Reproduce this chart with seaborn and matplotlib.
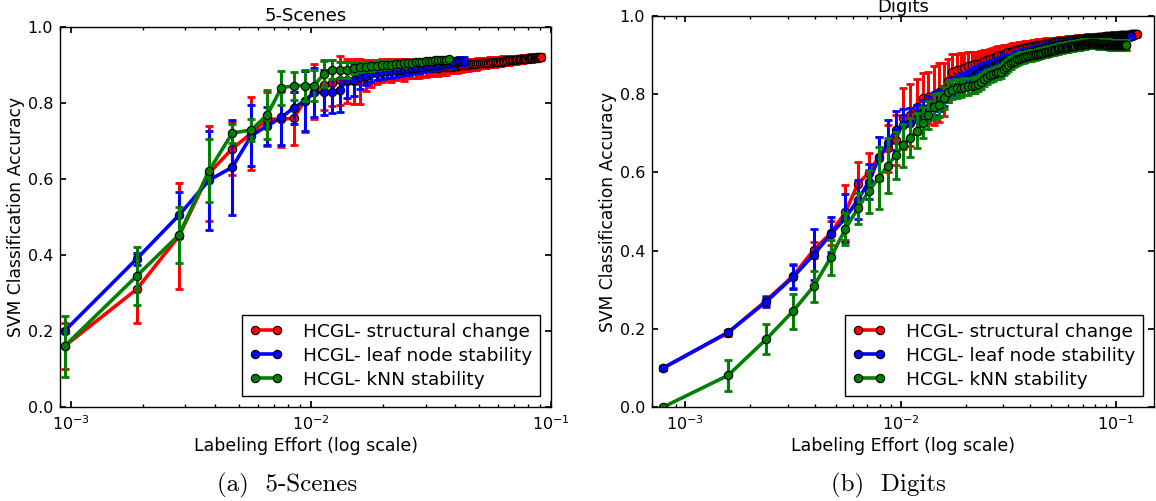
import numpy as np
import pandas as pd
import matplotlib
matplotlib.use("Agg")
import matplotlib.pyplot as plt
from matplotlib.ticker import FormatStrFormatter, LogLocator
import seaborn as sns

# ---------------------------------------------------------------
# Labeling budget per active-learning round (fraction of dataset)
# ---------------------------------------------------------------
scenes_step = 0.00094
digits_step = 0.00079

# ---------------- 5-Scenes ----------------
scenes_struct_acc = [
    0.160, 0.310, 0.450, 0.615, 0.680, 0.720, 0.758, 0.757, 0.760, 0.805,
    0.830, 0.847, 0.853, 0.860, 0.857, 0.857, 0.857, 0.872, 0.878, 0.882,
    0.885, 0.887, 0.886, 0.888, 0.889, 0.887, 0.890, 0.889, 0.891, 0.890,
    0.892, 0.891, 0.893, 0.892, 0.894, 0.893, 0.895, 0.894, 0.895, 0.896,
    0.896, 0.898, 0.897, 0.899, 0.899, 0.900, 0.901, 0.900, 0.902, 0.902,
    0.903, 0.902, 0.904, 0.904, 0.905, 0.904, 0.906, 0.906, 0.907, 0.906,
    0.908, 0.907, 0.909, 0.908, 0.910, 0.909, 0.911, 0.910, 0.912, 0.911,
    0.912, 0.913, 0.913, 0.914, 0.913, 0.914, 0.915, 0.915, 0.916, 0.915,
    0.916, 0.917, 0.917, 0.917, 0.918, 0.917, 0.918, 0.919, 0.918, 0.919,
    0.919, 0.920, 0.920, 0.919, 0.920, 0.921, 0.921]
scenes_struct_err = [
    0.060, 0.090, 0.140, 0.125, 0.070, 0.095, 0.070, 0.072, 0.070, 0.080,
    0.072, 0.065, 0.060, 0.065, 0.058, 0.060, 0.060, 0.040, 0.035, 0.032,
    0.030, 0.028, 0.030, 0.027, 0.026, 0.028, 0.025, 0.024, 0.025, 0.023,
    0.022, 0.023, 0.021, 0.022, 0.020, 0.021, 0.020, 0.019, 0.020, 0.018,
    0.018, 0.017, 0.018, 0.016, 0.017, 0.016, 0.015, 0.016, 0.015, 0.014,
    0.014, 0.015, 0.014, 0.013, 0.014, 0.013, 0.013, 0.012, 0.013, 0.012,
    0.012, 0.013, 0.012, 0.011, 0.012, 0.011, 0.012, 0.011, 0.011, 0.010,
    0.011, 0.010, 0.011, 0.010, 0.010, 0.011, 0.010, 0.010, 0.009, 0.010,
    0.010, 0.009, 0.010, 0.009, 0.009, 0.010, 0.009, 0.009, 0.009, 0.008,
    0.009, 0.008, 0.009, 0.008, 0.008, 0.008, 0.007]

scenes_leaf_acc = [
    0.200, 0.390, 0.505, 0.597, 0.631, 0.714, 0.740, 0.762, 0.787, 0.805,
    0.828, 0.828, 0.828, 0.834, 0.860, 0.860, 0.868, 0.872, 0.878, 0.880,
    0.882, 0.884, 0.885, 0.886, 0.887, 0.889, 0.890, 0.891, 0.893, 0.894,
    0.895, 0.897, 0.898, 0.899, 0.900, 0.901, 0.903, 0.904, 0.905, 0.906,
    0.907, 0.908, 0.909, 0.910, 0.910, 0.911]
scenes_leaf_err = [
    0.005, 0.015, 0.060, 0.130, 0.125, 0.080, 0.050, 0.072, 0.042, 0.078,
    0.065, 0.060, 0.055, 0.058, 0.048, 0.042, 0.032, 0.025, 0.022, 0.020,
    0.020, 0.018, 0.018, 0.017, 0.016, 0.016, 0.015, 0.015, 0.014, 0.014,
    0.013, 0.013, 0.013, 0.012, 0.012, 0.012, 0.012, 0.011, 0.011, 0.011,
    0.011, 0.010, 0.010, 0.010, 0.010, 0.010]

scenes_knn_acc = [
    0.160, 0.345, 0.453, 0.622, 0.721, 0.729, 0.769, 0.840, 0.845, 0.846,
    0.846, 0.876, 0.887, 0.887, 0.887, 0.892, 0.895, 0.896, 0.897, 0.898,
    0.899, 0.900, 0.901, 0.902, 0.903, 0.904, 0.905, 0.906, 0.907, 0.908,
    0.909, 0.910, 0.910, 0.911, 0.912, 0.912, 0.913, 0.913, 0.914, 0.915]
scenes_knn_err = [
    0.080, 0.077, 0.073, 0.083, 0.025, 0.028, 0.065, 0.045, 0.037, 0.042,
    0.040, 0.035, 0.025, 0.020, 0.020, 0.016, 0.013, 0.012, 0.012, 0.012,
    0.010, 0.010, 0.009, 0.009, 0.009, 0.008, 0.008, 0.008, 0.008, 0.008,
    0.007, 0.007, 0.007, 0.007, 0.007, 0.006, 0.006, 0.006, 0.006, 0.006]

# ---------------- Digits ----------------
digits_struct_acc = [
    0.100, 0.190, 0.272, 0.335, 0.402, 0.445, 0.498, 0.570, 0.599, 0.640,
    0.662, 0.683, 0.738, 0.747, 0.768, 0.790, 0.792, 0.797, 0.805, 0.812,
    0.835, 0.858, 0.862, 0.865, 0.868, 0.871, 0.874, 0.876, 0.878, 0.881,
    0.884, 0.887, 0.890, 0.893, 0.896, 0.899, 0.901, 0.903, 0.905, 0.907,
    0.909, 0.911, 0.912, 0.914, 0.915, 0.916, 0.917, 0.919, 0.920, 0.921,
    0.922, 0.923, 0.924, 0.925, 0.926, 0.926, 0.927, 0.928, 0.929, 0.930,
    0.930, 0.931, 0.932, 0.931, 0.933, 0.933, 0.934, 0.933, 0.935, 0.935,
    0.936, 0.935, 0.937, 0.937, 0.936, 0.938, 0.938, 0.939, 0.938, 0.939,
    0.940, 0.939, 0.940, 0.941, 0.940, 0.941, 0.942, 0.941, 0.942, 0.943,
    0.942, 0.943, 0.943, 0.944, 0.943, 0.944, 0.944, 0.945, 0.944, 0.945,
    0.945, 0.946, 0.945, 0.946, 0.946, 0.946, 0.947, 0.946, 0.947, 0.947,
    0.947, 0.948, 0.947, 0.948, 0.948, 0.948, 0.948, 0.949, 0.948, 0.949,
    0.949, 0.949, 0.949, 0.950, 0.949, 0.950, 0.950, 0.950, 0.950, 0.950,
    0.951, 0.950, 0.951, 0.951, 0.951, 0.951, 0.951, 0.951, 0.952, 0.952,
    0.952, 0.951, 0.952, 0.952, 0.952, 0.952, 0.952, 0.953, 0.953, 0.953,
    0.953, 0.952, 0.953, 0.953, 0.953, 0.953, 0.954, 0.954]
digits_struct_err = [
    0.005, 0.008, 0.012, 0.030, 0.020, 0.030, 0.070, 0.057, 0.050, 0.050,
    0.060, 0.065, 0.077, 0.080, 0.070, 0.063, 0.065, 0.075, 0.075, 0.068,
    0.055, 0.045, 0.042, 0.040, 0.038, 0.036, 0.034, 0.032, 0.030, 0.029,
    0.028, 0.027, 0.026, 0.025, 0.024, 0.023, 0.022, 0.022, 0.021, 0.020,
    0.020, 0.019, 0.019, 0.018, 0.018, 0.017, 0.017, 0.016, 0.016, 0.016,
    0.015, 0.015, 0.015, 0.014, 0.014, 0.014, 0.013, 0.013, 0.013, 0.013,
    0.012, 0.012, 0.012, 0.012, 0.012, 0.011, 0.011, 0.011, 0.011, 0.011,
    0.011, 0.010, 0.010, 0.010, 0.010, 0.010, 0.010, 0.010, 0.010, 0.010,
    0.010, 0.010, 0.009, 0.010, 0.009, 0.009, 0.010, 0.009, 0.009, 0.009,
    0.009, 0.009, 0.009, 0.009, 0.009, 0.009, 0.009, 0.009, 0.009, 0.009,
    0.009, 0.008, 0.009, 0.008, 0.009, 0.008, 0.008, 0.009, 0.008, 0.008,
    0.008, 0.008, 0.008, 0.008, 0.008, 0.008, 0.008, 0.008, 0.008, 0.008,
    0.008, 0.007, 0.008, 0.008, 0.007, 0.008, 0.007, 0.008, 0.007, 0.008,
    0.007, 0.008, 0.007, 0.007, 0.008, 0.007, 0.007, 0.007, 0.007, 0.008,
    0.007, 0.007, 0.007, 0.007, 0.007, 0.007, 0.007, 0.007, 0.007, 0.007,
    0.007, 0.007, 0.006, 0.007, 0.006, 0.007, 0.006, 0.006]

digits_leaf_acc = [
    0.100, 0.191, 0.269, 0.332, 0.390, 0.442, 0.483, 0.530, 0.576, 0.636,
    0.674, 0.708, 0.721, 0.726, 0.737, 0.752, 0.765, 0.775, 0.785, 0.795,
    0.805, 0.815, 0.822, 0.828, 0.834, 0.840, 0.845, 0.850, 0.855, 0.859,
    0.863, 0.866, 0.869, 0.872, 0.875, 0.878, 0.881, 0.884, 0.886, 0.889,
    0.891, 0.893, 0.895, 0.897, 0.899, 0.901, 0.903, 0.904, 0.906, 0.908,
    0.909, 0.910, 0.912, 0.913, 0.914, 0.915, 0.916, 0.917, 0.918, 0.919,
    0.920, 0.921, 0.921, 0.922, 0.923, 0.924, 0.924, 0.925, 0.926, 0.926,
    0.927, 0.928, 0.928, 0.929, 0.929, 0.930, 0.930, 0.931, 0.931, 0.932,
    0.932, 0.933, 0.933, 0.933, 0.934, 0.934, 0.935, 0.935, 0.935, 0.936,
    0.936, 0.936, 0.937, 0.937, 0.937, 0.938, 0.938, 0.938, 0.939, 0.939,
    0.939, 0.939, 0.940, 0.940, 0.940, 0.940, 0.941, 0.941, 0.941, 0.941,
    0.942, 0.942, 0.942, 0.942, 0.942, 0.943, 0.943, 0.943, 0.943, 0.943,
    0.944, 0.944, 0.944, 0.944, 0.944, 0.944, 0.945, 0.945, 0.945, 0.945,
    0.945, 0.945, 0.946, 0.946, 0.946, 0.946, 0.946, 0.946, 0.946, 0.947,
    0.947, 0.947, 0.947, 0.947, 0.947, 0.947, 0.948, 0.948]
digits_leaf_err = [
    0.005, 0.005, 0.012, 0.030, 0.065, 0.045, 0.062, 0.050, 0.045, 0.055,
    0.060, 0.050, 0.042, 0.038, 0.035, 0.032, 0.030, 0.028, 0.027, 0.026,
    0.025, 0.024, 0.023, 0.022, 0.021, 0.020, 0.020, 0.019, 0.018, 0.018,
    0.017, 0.017, 0.016, 0.016, 0.015, 0.015, 0.015, 0.014, 0.014, 0.014,
    0.013, 0.013, 0.013, 0.013, 0.012, 0.012, 0.012, 0.012, 0.012, 0.011,
    0.011, 0.011, 0.011, 0.011, 0.011, 0.010, 0.010, 0.010, 0.010, 0.010,
    0.010, 0.010, 0.010, 0.010, 0.009, 0.009, 0.009, 0.009, 0.009, 0.009,
    0.009, 0.009, 0.009, 0.009, 0.009, 0.009, 0.009, 0.008, 0.008, 0.008,
    0.008, 0.008, 0.008, 0.008, 0.008, 0.008, 0.008, 0.008, 0.008, 0.008,
    0.008, 0.008, 0.008, 0.008, 0.008, 0.008, 0.008, 0.008, 0.007, 0.007,
    0.007, 0.007, 0.007, 0.007, 0.007, 0.007, 0.007, 0.007, 0.007, 0.007,
    0.007, 0.007, 0.007, 0.007, 0.007, 0.007, 0.007, 0.007, 0.007, 0.007,
    0.007, 0.007, 0.007, 0.007, 0.007, 0.007, 0.007, 0.007, 0.007, 0.007,
    0.007, 0.007, 0.007, 0.007, 0.007, 0.007, 0.007, 0.007, 0.007, 0.007,
    0.007, 0.007, 0.007, 0.007, 0.007, 0.007, 0.007, 0.007]

digits_knn_acc = [
    0.000, 0.081, 0.173, 0.245, 0.309, 0.383, 0.455, 0.508, 0.552, 0.586,
    0.617, 0.644, 0.670, 0.689, 0.707, 0.727, 0.747, 0.768, 0.772, 0.790,
    0.806, 0.812, 0.815, 0.817, 0.819, 0.820, 0.822, 0.824, 0.827, 0.832,
    0.838, 0.845, 0.848, 0.851, 0.854, 0.856, 0.858, 0.864, 0.870, 0.875,
    0.879, 0.883, 0.886, 0.889, 0.891, 0.893, 0.894, 0.896, 0.897, 0.898,
    0.899, 0.900, 0.901, 0.902, 0.903, 0.904, 0.905, 0.906, 0.907, 0.908,
    0.909, 0.910, 0.911, 0.912, 0.913, 0.914, 0.915, 0.916, 0.917, 0.918,
    0.918, 0.919, 0.919, 0.920, 0.921, 0.921, 0.922, 0.922, 0.923, 0.923,
    0.924, 0.924, 0.925, 0.925, 0.926, 0.926, 0.927, 0.927, 0.928, 0.928,
    0.928, 0.929, 0.929, 0.929, 0.930, 0.930, 0.930, 0.930, 0.930, 0.930,
    0.929, 0.930, 0.929, 0.929, 0.928, 0.929, 0.928, 0.928, 0.929, 0.928,
    0.928, 0.927, 0.928, 0.927, 0.927, 0.928, 0.927, 0.927, 0.926, 0.927,
    0.927, 0.926, 0.927, 0.926, 0.926, 0.927, 0.926, 0.926, 0.926, 0.927,
    0.926, 0.926, 0.925, 0.926, 0.926, 0.925, 0.926, 0.926, 0.926, 0.926,
    0.926]
digits_knn_err = [
    0.000, 0.040, 0.038, 0.045, 0.040, 0.045, 0.040, 0.040, 0.055, 0.080,
    0.070, 0.060, 0.055, 0.050, 0.045, 0.040, 0.035, 0.032, 0.030, 0.028,
    0.026, 0.025, 0.024, 0.023, 0.022, 0.021, 0.020, 0.020, 0.019, 0.019,
    0.018, 0.018, 0.017, 0.017, 0.016, 0.016, 0.016, 0.015, 0.015, 0.015,
    0.015, 0.014, 0.014, 0.014, 0.014, 0.014, 0.013, 0.013, 0.013, 0.013,
    0.013, 0.013, 0.013, 0.012, 0.012, 0.012, 0.012, 0.012, 0.012, 0.012,
    0.012, 0.012, 0.012, 0.012, 0.012, 0.012, 0.012, 0.012, 0.012, 0.012,
    0.012, 0.012, 0.012, 0.012, 0.012, 0.012, 0.012, 0.012, 0.012, 0.012,
    0.012, 0.012, 0.012, 0.012, 0.012, 0.012, 0.012, 0.012, 0.012, 0.012,
    0.012, 0.012, 0.012, 0.012, 0.012, 0.012, 0.012, 0.012, 0.012, 0.012,
    0.012, 0.012, 0.012, 0.012, 0.012, 0.012, 0.012, 0.012, 0.012, 0.012,
    0.012, 0.012, 0.012, 0.012, 0.012, 0.012, 0.012, 0.012, 0.012, 0.012,
    0.012, 0.012, 0.012, 0.012, 0.012, 0.012, 0.012, 0.012, 0.012, 0.012,
    0.012, 0.012, 0.012, 0.012, 0.012, 0.012, 0.012, 0.012, 0.012, 0.012,
    0.012]

method_names = ["HCGL- structural change",
                "HCGL- leaf node stability",
                "HCGL- kNN stability"]
method_colors = ["#ff0000", "#0000ff", "#008000"]
y_ticks = [0.0, 0.2, 0.4, 0.6, 0.8, 1.0]


def rounds_to_effort(n_rounds, step):
    return step * np.arange(1, n_rounds + 1)


def build_frame(step, series):
    rows = []
    for name, (acc, err) in zip(method_names, series):
        effort = rounds_to_effort(len(acc), step)
        rows.append(pd.DataFrame({"effort": effort, "acc": acc,
                                  "err": err, "method": name}))
    return pd.concat(rows, ignore_index=True)


scenes_df = build_frame(scenes_step, [(scenes_struct_acc, scenes_struct_err),
                                      (scenes_leaf_acc, scenes_leaf_err),
                                      (scenes_knn_acc, scenes_knn_err)])
digits_df = build_frame(digits_step, [(digits_struct_acc, digits_struct_err),
                                      (digits_leaf_acc, digits_leaf_err),
                                      (digits_knn_acc, digits_knn_err)])

sns.set_theme(style="white")
plt.rcParams.update({
    "font.family": ["DejaVu Sans"],
    "xtick.direction": "in", "ytick.direction": "in",
    "xtick.top": True, "ytick.right": True,
    "xtick.bottom": True, "ytick.left": True,
    "xtick.major.size": 4, "ytick.major.size": 4,
    "xtick.minor.size": 2, "ytick.minor.size": 2,
    "xtick.color": "black", "ytick.color": "black",
    "axes.edgecolor": "black", "axes.linewidth": 1.0,
    "text.color": "black", "axes.labelcolor": "black",
})

fig = plt.figure(figsize=(11.56, 5.01), dpi=100)
W, H = 1156, 501
ax_a = fig.add_axes([60 / W, (H - 407) / H, 491 / W, 380 / H])
ax_b = fig.add_axes([652 / W, (H - 407) / H, 502 / W, 391 / H])


def draw_panel(ax, df, title, xlim, title_pad):
    for name, color in zip(method_names, method_colors):
        sub = df[df["method"] == name]
        ax.errorbar(sub["effort"], sub["acc"], yerr=sub["err"], fmt="none",
                    ecolor=color, elinewidth=2.2, capsize=3, capthick=2)
        sns.lineplot(data=sub, x="effort", y="acc", ax=ax, color=color,
                     linewidth=2.6, marker="o", markersize=6,
                     markeredgecolor="black", markeredgewidth=0.8,
                     label=name, estimator=None, sort=False)
    ax.set_xscale("log")
    ax.set_xlim(*xlim)
    ax.set_ylim(0, 1.0)
    ax.set_yticks(y_ticks)
    ax.yaxis.set_major_formatter(FormatStrFormatter("%.1f"))
    ax.xaxis.set_minor_locator(LogLocator(base=10, subs=np.arange(2, 10)))
    ax.tick_params(axis="both", which="major", labelsize=11.5, pad=5)
    ax.set_xlabel("Labeling Effort (log scale)", fontsize=12.5, labelpad=3)
    ax.set_ylabel("SVM Classification Accuracy", fontsize=12.3, labelpad=2)
    ax.set_title(title, fontsize=13, pad=title_pad)
    for s in ax.spines.values():
        s.set_visible(True)
        s.set_color("black")
    leg = ax.legend(loc="lower right", numpoints=2, fontsize=13.3,
                    frameon=True, fancybox=False, framealpha=1,
                    edgecolor="black", borderaxespad=0.6,
                    handlelength=1.8, handletextpad=1.1,
                    labelspacing=0.32, borderpad=0.4)
    leg.get_frame().set_linewidth(1.0)


draw_panel(ax_a, scenes_df, "5-Scenes", (0.0009, 0.1), 4)
draw_panel(ax_b, digits_df, "Digits", (0.0007, 0.15), 1.5)

fig.text(287 / W, 1 - 485 / H, "(a)  5-Scenes", fontfamily="cmr10",
         fontsize=18, ha="center", va="center")
fig.text(888 / W, 1 - 485 / H, "(b)  Digits", fontfamily="cmr10",
         fontsize=18, ha="center", va="center")

fig.savefig("out.png", dpi=100, facecolor="white")
